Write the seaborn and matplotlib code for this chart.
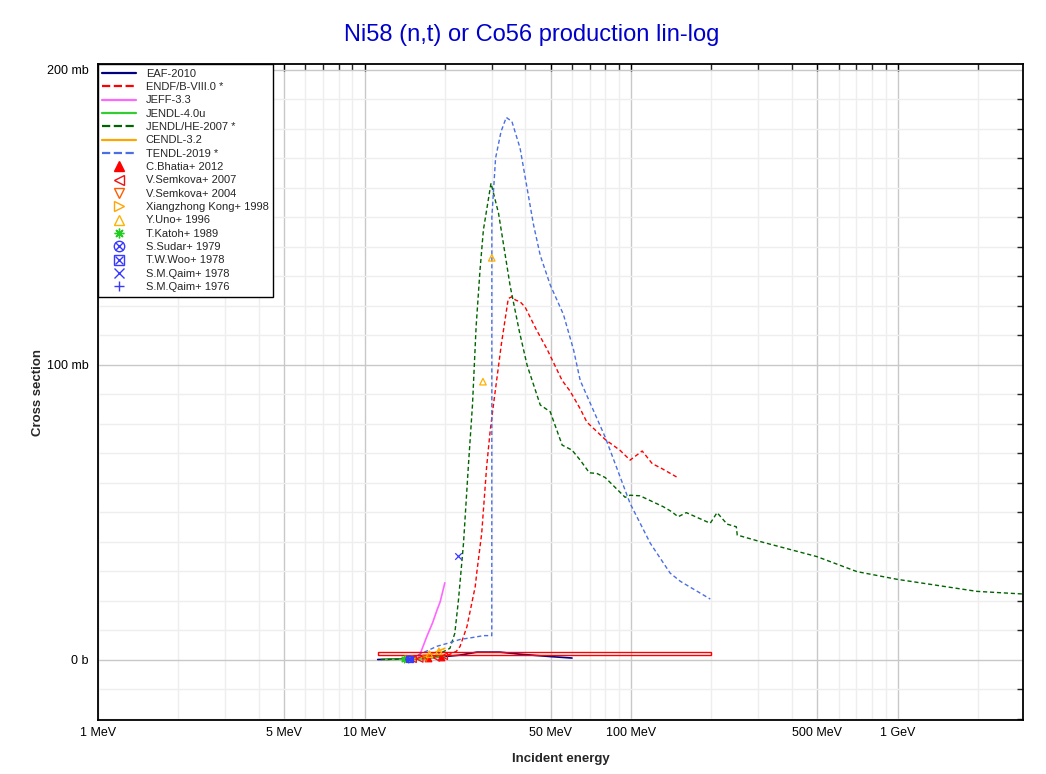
import numpy as np
import pandas as pd
import matplotlib
matplotlib.use("Agg")
import matplotlib.pyplot as plt
from matplotlib.lines import Line2D
from matplotlib.patches import Rectangle
from matplotlib.legend_handler import HandlerTuple
from matplotlib.ticker import FixedLocator, FixedFormatter, LogLocator, MultipleLocator, NullFormatter
import seaborn as sns

# === evaluated libraries (energy in MeV, cross section in mb) ===
eaf_e = [11.2, 14.0, 17.1, 20.0, 22.8, 26.4, 32.2, 38.3, 49.7, 60.0]
eaf_xs = [0.0, 0.2, 0.6, 1.0, 1.5, 2.5, 2.5, 1.8, 1.0, 0.5]

endf_e = [12.0, 15.0, 18.0, 20.0, 22.1, 22.8, 24.2, 26.0, 26.4, 27.5, 28.7, 29.6, 30.4,
          32.6, 34.6, 35.7, 36.8, 38.3, 40.0, 44.0, 48.3, 55.1, 59.0, 64.4, 68.2, 79.9,
          90.9, 99.1, 110.0, 120.0, 130.0, 148.0]
endf_xs = [0.0, 0.1, 0.5, 1.0, 2.8, 4.4, 11.1, 24.7, 30.0, 42.8, 65.4, 77.7, 86.0,
           107.0, 122.4, 123.0, 121.9, 121.3, 119.5, 112.0, 105.3, 94.6, 91.0, 85.0, 80.5, 74.6,
           70.9, 67.6, 70.7, 66.4, 64.8, 61.9]

jeff_e = [15.7, 16.1, 17.1, 18.0, 18.7, 19.2, 20.0]
jeff_xs = [0.2, 1.5, 7.7, 12.5, 16.8, 19.5, 26.0]

jendl4_e = [12.0, 14.0, 16.0, 18.0, 20.0]
jendl4_xs = [0.0, 0.05, 0.2, 0.6, 1.2]

jendlhe_e = [11.5, 15.0, 18.0, 20.9, 21.8, 22.5, 23.5, 24.5, 25.4, 26.2, 27.1, 27.9, 29.8,
             31.8, 35.2, 38.1, 40.7, 45.6, 49.7, 55.1, 60.0, 64.4, 69.7, 74.3, 79.9, 94.9,
             99.1, 108.0, 132.0, 142.0, 150.0, 161.0, 198.0, 210.0, 229.0, 248.0, 250.0,
             296.0, 497.0, 703.0, 993.0, 1983.0, 2966.0]
jendlhe_xs = [0.0, 0.2, 0.8, 3.8, 8.9, 20.2, 39.4, 65.4, 86.5, 112.8, 132.0, 145.6, 161.5,
              151.3, 126.4, 111.1, 99.8, 86.3, 84.0, 72.7, 71.0, 67.6, 63.3, 63.1, 61.7, 55.0,
              55.7, 55.5, 51.8, 50.1, 48.4, 49.8, 46.2, 49.8, 45.9, 45.0, 42.2,
              40.3, 34.9, 29.8, 27.2, 23.1, 22.2]

cendl_e = [14.0, 16.0, 17.5, 19.3, 20.0]
cendl_xs = [0.0, 0.5, 1.5, 3.2, 3.8]

tendl_e = [15.0, 18.7, 20.5, 22.8, 25.6, 27.9, 30.0, 30.02, 31.0, 32.5, 34.0, 35.7, 38.3,
           43.0, 45.6, 49.7, 55.7, 60.8, 64.4, 79.9, 99.1, 118.0, 140.0, 153.0, 198.0]
tendl_xs = [0.5, 4.5, 5.5, 6.8, 7.5, 8.1, 8.1, 150.0, 170.0, 179.0, 183.8, 182.4, 173.4,
            147.5, 137.0, 127.0, 117.0, 105.0, 94.6, 75.4, 52.9, 39.4, 29.3, 26.5, 20.5]

# spectrum-averaged measurement drawn as a box
box_e = [11.2, 200.0]
box_xs = [1.6, 2.6]

# === measurements ===
bhatia_e, bhatia_xs = [17.3, 19.4], [0.4, 0.9]
semkova07_e, semkova07_xs = [15.2, 16.1, 18.6, 19.9], [0.1, 0.2, 0.6, 1.1]
semkova04_e, semkova04_xs = [14.8, 17.0], [0.1, 0.4]
kong_e, kong_xs = [14.6], [0.1]
uno_e, uno_xs = [17.5, 19.0, 27.8, 30.0], [1.8, 2.8, 94.2, 136.2]
katoh_e, katoh_xs = [14.1, 14.5], [0.05, 0.08]
sudar_e, sudar_xs = [14.7], [0.1]
woo_e, woo_xs = [14.8], [0.1]
qaim78_e, qaim78_xs = [14.7, 22.5], [0.1, 35.1]
qaim76_e, qaim76_xs = [14.6], [0.05]

x_ticks = [1, 5, 10, 50, 100, 500, 1000]
x_labels = ["1 MeV", "5 MeV", "10 MeV", "50 MeV", "100 MeV", "500 MeV", "1 GeV"]
y_ticks = [0, 100, 200]
y_labels = ["0 b", "100 mb", "200 mb"]

sns.set_style("white")
plt.rcParams["font.family"] = ["Liberation Sans", "DejaVu Sans"]

fig = plt.figure(figsize=(10.46, 7.74), dpi=100)
ax = fig.add_axes([0.0937, 0.0698, 0.8843, 0.8471])
ax.set_xscale("log")

libs = [
    ("EAF-2010", eaf_e, eaf_xs, "#000080", "-", 1.2),
    ("ENDF/B-VIII.0 *", endf_e, endf_xs, "#ff0000", (0, (3, 2)), 1.0),
    ("JEFF-3.3", jeff_e, jeff_xs, "#ff66ff", "-", 1.2),
    ("JENDL-4.0u", jendl4_e, jendl4_xs, "#33cc33", "-", 1.2),
    ("JENDL/HE-2007 *", jendlhe_e, jendlhe_xs, "#006400", (0, (3, 2)), 1.0),
    ("CENDL-3.2", cendl_e, cendl_xs, "#ffa500", "-", 1.2),
    ("TENDL-2019 *", tendl_e, tendl_xs, "#4a6fe3", (0, (3, 2)), 1.0),
]

handles, labels = [], []
for name, e, xs, col, ls, lw in libs:
    df = pd.DataFrame({"e": e, "xs": xs})
    sns.lineplot(data=df, x="e", y="xs", ax=ax, color=col, linestyle=ls, linewidth=lw,
                 sort=False, estimator=None, errorbar=None, legend=False)
    hls = "-" if ls == "-" else "--"
    handles.append(Line2D([], [], color=col, linestyle=hls, linewidth=1.6))
    labels.append(name)

ax.add_patch(Rectangle((box_e[0], box_xs[0]), box_e[1] - box_e[0], box_xs[1] - box_xs[0],
                       fill=False, edgecolor="red", linewidth=1.0, zorder=3))

points = [
    ("C.Bhatia+ 2012", bhatia_e, bhatia_xs, "#ff0000", ["^"], True),
    ("V.Semkova+ 2007", semkova07_e, semkova07_xs, "#ee1111", ["<"], False),
    ("V.Semkova+ 2004", semkova04_e, semkova04_xs, "#ff5a00", ["v"], False),
    ("Xiangzhong Kong+ 1998", kong_e, kong_xs, "#ffa500", [">"], False),
    ("Y.Uno+ 1996", uno_e, uno_xs, "#ffb000", ["^"], False),
    ("T.Katoh+ 1989", katoh_e, katoh_xs, "#22cc22", [(8, 2, 0)], False),
    ("S.Sudar+ 1979", sudar_e, sudar_xs, "#3a3aff", ["o", "x"], False),
    ("T.W.Woo+ 1978", woo_e, woo_xs, "#3a3aff", ["s", "x"], False),
    ("S.M.Qaim+ 1978", qaim78_e, qaim78_xs, "#3a3aff", ["x"], False),
    ("S.M.Qaim+ 1976", qaim76_e, qaim76_xs, "#3a3aff", ["+"], False),
]

for name, e, xs, col, mks, filled in points:
    parts = []
    for mk in mks:
        fc = col if filled else "none"
        if mk in ("x", "+") or isinstance(mk, tuple):
            ax.scatter(e, xs, marker=mk, s=22, color=col, linewidths=0.9, zorder=4)
        else:
            ax.scatter(e, xs, marker=mk, s=22, facecolors=fc, edgecolors=col,
                       linewidths=0.9, zorder=4)
        ms = 7.5 if mk in ("o", "s") else (6 if len(mks) > 1 else 7)
        parts.append(Line2D([], [], linestyle="none", marker=mk, markersize=ms,
                            markerfacecolor=fc if mk not in ("x", "+") else col,
                            markeredgecolor=col, markeredgewidth=1.0))
    handles.append(tuple(parts) if len(parts) > 1 else parts[0])
    labels.append(name)

ax.set_xlim(1, 2950)
ax.set_ylim(-20.5, 201.8)

# ticks and grid
ax.xaxis.set_major_locator(FixedLocator(x_ticks))
ax.xaxis.set_major_formatter(FixedFormatter(x_labels))
ax.xaxis.set_minor_locator(LogLocator(base=10, subs=np.arange(2, 10), numticks=20))
ax.xaxis.set_minor_formatter(NullFormatter())
ax.yaxis.set_major_locator(FixedLocator(y_ticks))
ax.yaxis.set_major_formatter(FixedFormatter(y_labels))
ax.yaxis.set_minor_locator(MultipleLocator(10))

ax.grid(which="major", color="#c8c8c8", linewidth=1.0)
ax.grid(which="minor", color="#eeeeee", linewidth=1.0)
ax.set_axisbelow(True)

ax.tick_params(axis="x", which="major", direction="in", length=5, width=1, top=True,
               labelsize=9, colors="black", pad=5)
ax.tick_params(axis="x", which="minor", direction="in", length=4, width=1, top=True)
ax.tick_params(axis="y", which="major", direction="out", length=5, width=1, right=False,
               labelsize=9, colors="black", pad=2)
ax.tick_params(axis="y", which="minor", direction="in", length=4, width=1, right=True)
for sp in ax.spines.values():
    sp.set_color("black")
    sp.set_linewidth(1.3)

ax.set_xlabel("Incident energy", fontsize=9.5, fontweight="bold", labelpad=10)
ax.set_ylabel("Cross section", fontsize=9.5, fontweight="bold", labelpad=2)
fig.text(0.508, 0.955, "Ni58 (n,t) or Co56 production lin-log", color="#0000cc",
         fontsize=17, ha="center", va="center")

leg = ax.legend(handles, labels, loc="upper left", borderaxespad=0, fontsize=8,
                frameon=True, fancybox=False, edgecolor="black", framealpha=1,
                handlelength=3.0, handletextpad=0.9, labelspacing=0.3,
                borderpad=0.4, handler_map={tuple: HandlerTuple(ndivide=1)})
leg.get_frame().set_linewidth(1.0)

fig.savefig("out.png", dpi=100)
